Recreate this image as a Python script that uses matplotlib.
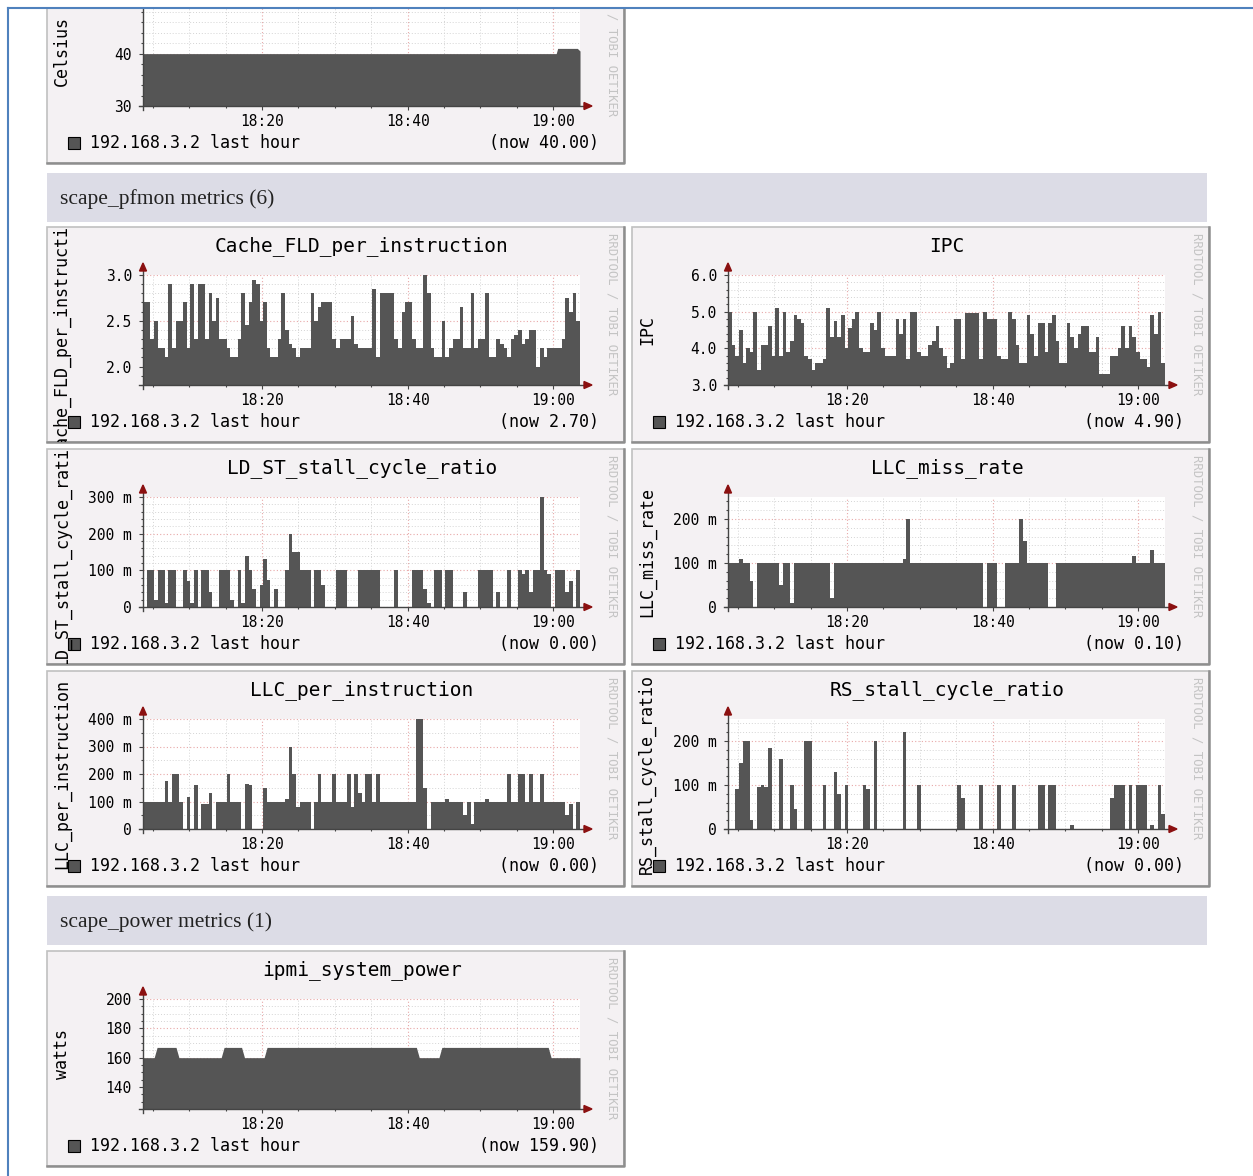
import numpy as np
import matplotlib
matplotlib.use("Agg")
import matplotlib.pyplot as plt
from matplotlib.patches import Rectangle, Polygon
from matplotlib.lines import Line2D
from matplotlib.transforms import Affine2D
from matplotlib.ticker import MultipleLocator

# samples every 30 s starting 18:03:40 (x = minutes after 18:00)
t_start = 3 + 40 / 60
t_step = 0.5

cache_fld = [
    2.7, 2.7, 2.3, 2.5, 2.2, 2.2, 2.1, 2.9, 2.2, 2.5,
    2.5, 2.7, 2.2, 2.9, 2.3, 2.9, 2.9, 2.3, 2.8, 2.5,
    2.75, 2.3, 2.3, 2.2, 2.1, 2.1, 2.3, 2.8, 2.45, 2.7,
    2.95, 2.9, 2.5, 2.7, 2.2, 2.1, 2.1, 2.3, 2.8, 2.4,
    2.25, 2.2, 2.1, 2.2, 2.2, 2.2, 2.8, 2.5, 2.65, 2.7,
    2.7, 2.7, 2.3, 2.2, 2.3, 2.3, 2.3, 2.55, 2.25, 2.2,
    2.2, 2.2, 2.2, 2.85, 2.1, 2.8, 2.8, 2.8, 2.8, 2.3,
    2.2, 2.6, 2.7, 2.7, 2.3, 2.2, 2.2, 3.0, 2.8, 2.2,
    2.1, 2.1, 2.5, 2.1, 2.2, 2.3, 2.3, 2.65, 2.2, 2.2,
    2.8, 2.2, 2.3, 2.3, 2.8, 2.1, 2.1, 2.3, 2.25, 2.2,
    2.1, 2.3, 2.35, 2.4, 2.25, 2.3, 2.4, 2.4, 2.0, 2.2,
    2.1, 2.2, 2.2, 2.2, 2.2, 2.3, 2.75, 2.6, 2.8, 2.5,
]

ipc = [
    5.0, 4.1, 3.8, 4.5, 3.6, 4.0, 3.9, 5.0, 3.4, 4.1,
    4.1, 4.6, 3.8, 5.1, 3.8, 5.0, 3.9, 4.2, 4.9, 4.8,
    4.7, 3.8, 3.7, 3.4, 3.6, 3.6, 3.7, 5.1, 4.3, 4.75,
    4.3, 4.9, 4.0, 4.55, 4.8, 5.0, 4.0, 3.9, 3.9, 4.7,
    4.5, 5.0, 4.0, 3.8, 3.8, 3.8, 4.8, 4.4, 4.8, 3.7,
    5.0, 5.0, 3.9, 3.8, 3.8, 4.1, 4.2, 4.6, 4.0, 3.8,
    3.45, 3.6, 4.8, 4.8, 3.7, 4.95, 4.95, 4.95, 4.95, 3.7,
    5.0, 4.8, 4.8, 4.8, 3.8, 3.7, 3.7, 5.0, 4.8, 4.1,
    3.6, 3.6, 4.9, 4.4, 3.8, 4.7, 4.7, 3.9, 4.7, 4.9,
    4.2, 3.6, 3.6, 4.7, 4.3, 4.0, 4.4, 4.6, 4.6, 3.9,
    3.9, 4.3, 3.3, 3.3, 3.3, 3.8, 3.8, 4.0, 4.6, 4.0,
    4.6, 4.3, 3.9, 3.7, 3.7, 3.5, 4.9, 4.4, 5.0, 3.6,
]

# the next four are in milli-units
ld_st_stall = [
    0, 100, 100, 20, 100, 100, 10, 100, 100, 0,
    0, 100, 70, 10, 100, 0, 100, 100, 40, 0,
    0, 100, 100, 100, 20, 0, 100, 10, 140, 100,
    50, 0, 60, 130, 75, 0, 50, 0, 0, 100,
    200, 150, 150, 100, 100, 100, 0, 100, 100, 60,
    0, 0, 0, 100, 100, 100, 0, 0, 0, 100,
    100, 100, 100, 100, 100, 0, 0, 0, 0, 100,
    0, 0, 0, 0, 100, 100, 100, 50, 10, 0,
    100, 100, 0, 100, 100, 0, 0, 0, 40, 0,
    0, 0, 100, 100, 100, 100, 0, 40, 0, 0,
    100, 0, 0, 100, 90, 100, 40, 100, 100, 300,
    100, 90, 0, 100, 100, 100, 40, 70, 0, 100,
]

llc_miss = [
    100, 100, 100, 110, 100, 100, 60, 0, 100, 100,
    100, 100, 100, 100, 50, 100, 100, 10, 100, 100,
    100, 100, 100, 100, 100, 100, 100, 100, 20, 100,
    100, 100, 100, 100, 100, 100, 100, 100, 100, 100,
    100, 100, 100, 100, 100, 100, 100, 100, 110, 200,
    100, 100, 100, 100, 100, 100, 100, 100, 100, 100,
    100, 100, 100, 100, 100, 100, 100, 100, 100, 100,
    0, 100, 100, 100, 0, 0, 100, 100, 100, 100,
    200, 150, 100, 100, 100, 100, 100, 100, 0, 0,
    100, 100, 100, 100, 100, 100, 100, 100, 100, 100,
    100, 100, 100, 100, 100, 100, 100, 100, 100, 100,
    100, 115, 100, 100, 100, 100, 130, 100, 100, 100,
]

llc_per_instr = [
    100, 100, 100, 100, 100, 100, 175, 100, 200, 200,
    100, 0, 115, 0, 160, 0, 90, 90, 130, 0,
    100, 100, 100, 200, 100, 100, 100, 0, 165, 160,
    0, 0, 0, 150, 100, 100, 100, 100, 100, 110,
    300, 200, 80, 100, 100, 100, 0, 100, 200, 100,
    100, 100, 200, 100, 100, 100, 200, 80, 200, 130,
    100, 200, 200, 100, 200, 100, 100, 100, 100, 100,
    100, 100, 100, 100, 100, 400, 400, 150, 0, 100,
    100, 100, 100, 110, 100, 100, 100, 100, 50, 100,
    20, 100, 100, 100, 110, 100, 100, 100, 100, 100,
    200, 100, 100, 200, 200, 100, 200, 100, 100, 200,
    100, 100, 100, 100, 100, 100, 50, 90, 0, 100,
]

rs_stall = [
    0, 0, 90, 150, 200, 200, 20, 0, 95, 100,
    95, 185, 0, 0, 160, 0, 0, 100, 45, 0,
    0, 200, 200, 0, 0, 0, 100, 0, 0, 130,
    80, 0, 100, 0, 0, 0, 0, 100, 90, 0,
    200, 0, 0, 0, 0, 0, 0, 0, 220, 0,
    0, 0, 100, 0, 0, 0, 0, 0, 0, 0,
    0, 0, 0, 100, 70, 0, 0, 0, 0, 100,
    0, 0, 0, 0, 100, 0, 0, 0, 100, 0,
    0, 0, 0, 0, 0, 100, 100, 0, 100, 100,
    0, 0, 0, 0, 10, 0, 0, 0, 0, 0,
    0, 0, 0, 0, 0, 70, 100, 100, 100, 0,
    100, 0, 100, 100, 100, 0, 10, 0, 100, 35,
]

power_t = [3.67, 5.2, 5.6, 8.2, 8.6, 14.4, 14.8, 17.2, 17.6, 20.3,
           20.7, 41.2, 41.6, 44.3, 44.7, 59.3, 59.7, 63.67]
power_w = [160, 160, 167, 167, 160, 160, 167, 167, 160, 160,
           167, 167, 160, 160, 167, 167, 160, 160]

celsius_t = [3.67, 60.4, 60.6, 63.3, 63.67]
celsius_c = [40, 40, 41, 41, 40.5]

x_ticks = [20, 40, 60]
x_labels = ["18:20", "18:40", "19:00"]
host_label = "192.168.3.2 last hour"

AREA = "#555555"
PANEL_BG = "#f4f1f3"
BAND_BG = "#dcdce6"
MINOR_GRID = "#d4d4d4"
MAJOR_GRID = "#e8a8a8"
AXIS = "#444444"
ARROW = "#8b1010"

plt.rcParams["font.family"] = ["DejaVu Sans Mono"]

W, H = 1253, 1176
fig = plt.figure(figsize=(W / 100, H / 100), dpi=100)
fig.patch.set_facecolor("white")
# pixel coordinates, origin top-left
pix = Affine2D().scale(1 / W, -1 / H).translate(0, 1) + fig.transFigure


def px_rect(x0, y0, x1, y1):
    return [x0 / W, 1 - y1 / H, (x1 - x0) / W, (y1 - y0) / H]


def graph(L, T, title, ylabel, ylim, ymajor, ylabels, yminor, now, series):
    box = Rectangle((L, T), 577, 215, transform=pix, fc=PANEL_BG,
                    ec="#c0c0c0", lw=1.2, zorder=-2)
    fig.add_artist(box)
    fig.add_artist(Line2D([L, L + 577, L + 577], [T + 215, T + 215, T],
                          transform=pix, color="#8e8e8e", lw=1.8, zorder=-1))

    x0, x1, y0, y1 = L + 96, L + 533, T + 48, T + 158
    ax = fig.add_axes(px_rect(x0, y0, x1, y1))
    ax.set_facecolor("white")
    t, v, kind = series
    if kind == "step":
        edges = t_start + t_step * np.arange(len(v) + 1)
        ax.stairs(v, edges, baseline=ylim[0], fill=True, color=AREA, lw=0,
                  zorder=3)
    else:
        ax.fill_between(t, v, ylim[0], color=AREA, lw=0, zorder=3)
    ax.set_xlim(t_start, t_start + 60)
    ax.set_ylim(*ylim)

    ax.set_xticks(x_ticks, x_labels)
    ax.xaxis.set_minor_locator(MultipleLocator(5))
    ax.set_yticks(ymajor, ylabels)
    ax.yaxis.set_minor_locator(MultipleLocator(yminor))
    ax.tick_params(which="both", direction="out", color=AXIS, width=0.8,
                   labelsize=10.5)
    ax.tick_params(which="major", length=3)
    ax.tick_params(which="minor", length=1.5)
    ax.tick_params(axis="x", pad=3)
    ax.tick_params(axis="y", pad=5)
    ax.grid(True, which="minor", color=MINOR_GRID, ls=(0, (1, 2)), lw=0.7)
    ax.grid(True, which="major", color=MAJOR_GRID, ls=(0, (1, 2)), lw=0.8)
    ax.set_axisbelow(True)
    for s in ax.spines.values():
        s.set_visible(False)

    # axis lines with arrow heads
    fig.add_artist(Line2D([x0 - 4, x1 + 5], [y1, y1], transform=pix,
                          color=AXIS, lw=1, zorder=2))
    fig.add_artist(Line2D([x0, x0], [y1 + 4, y0 - 5], transform=pix,
                          color=AXIS, lw=1, zorder=2))
    fig.add_artist(Polygon([[x1 + 12, y1], [x1 + 4, y1 - 3.5], [x1 + 4, y1 + 3.5]],
                           transform=pix, color=ARROW, zorder=2))
    fig.add_artist(Polygon([[x0, y0 - 12], [x0 - 3.5, y0 - 4], [x0 + 3.5, y0 - 4]],
                           transform=pix, color=ARROW, zorder=2))

    if title:
        fig.text(L + 315, T + 19, title, transform=pix, ha="center",
                 va="center", fontsize=14)
    yl = fig.text(L + 15, T + 103, ylabel, transform=pix, rotation=90,
                  ha="center", va="center", fontsize=12)
    yl.set_clip_path(box)
    wm = fig.text(L + 565, T + 6, "RRDTOOL / TOBI OETIKER", transform=pix,
                  rotation=270, ha="center", va="top", fontsize=8.8,
                  color="#c4c4c4")
    wm.set_clip_path(box)

    fig.add_artist(Rectangle((L + 21, T + 189), 12, 12, transform=pix,
                             fc=AREA, ec="black", lw=0.8, zorder=3))
    fig.text(L + 43, T + 195, host_label, transform=pix, va="center",
             fontsize=12)
    fig.text(L + 552, T + 195, f"(now {now})", transform=pix, ha="right",
             va="center", fontsize=12)


def band(T, label):
    fig.add_artist(Rectangle((47, T), 1160, 49, transform=pix, fc=BAND_BG,
                             ec="none", zorder=-2))
    fig.text(60, T + 26, label, transform=pix, va="center", fontsize=15.5,
             family=["Liberation Serif"], color="#222222")


m_ticks = [0, 100, 200, 300, 400]
m_labels = ["0", "100 m", "200 m", "300 m", "400 m"]

graph(47, -52, None, "Celsius", (30, 51), [30, 40], ["30", "40"], 2,
      "40.00", (celsius_t, celsius_c, "line"))

band(173, "scape_pfmon metrics (6)")
graph(47, 227, "Cache_FLD_per_instruction", "Cache_FLD_per_instruction",
      (1.8, 3.0), [2.0, 2.5, 3.0], ["2.0", "2.5", "3.0"], 0.1, "2.70",
      (None, cache_fld, "step"))
graph(632, 227, "IPC", "IPC", (3.0, 6.0), [3, 4, 5, 6],
      ["3.0", "4.0", "5.0", "6.0"], 0.2, "4.90", (None, ipc, "step"))
graph(47, 449, "LD_ST_stall_cycle_ratio", "LD_ST_stall_cycle_ratio",
      (0, 300), m_ticks[:4], m_labels[:4], 20, "0.00",
      (None, ld_st_stall, "step"))
graph(632, 449, "LLC_miss_rate", "LLC_miss_rate", (0, 250), m_ticks[:3],
      m_labels[:3], 20, "0.10", (None, llc_miss, "step"))
graph(47, 671, "LLC_per_instruction", "LLC_per_instruction", (0, 400),
      m_ticks, m_labels, 50, "0.00", (None, llc_per_instr, "step"))
graph(632, 671, "RS_stall_cycle_ratio", "RS_stall_cycle_ratio", (0, 250),
      m_ticks[:3], m_labels[:3], 20, "0.00", (None, rs_stall, "step"))

band(896, "scape_power metrics (1)")
graph(47, 951, "ipmi_system_power", "watts", (125, 200),
      [140, 160, 180, 200], ["140", "160", "180", "200"], 5, "159.90",
      (power_t, power_w, "line"))

# page frame
fig.add_artist(Rectangle((0, 0), W, 8, transform=pix, fc="white", ec="none",
                         zorder=10))
fig.add_artist(Rectangle((0, 0), 8, H, transform=pix, fc="white", ec="none",
                         zorder=10))
fig.add_artist(Line2D([8, W], [8, 8], transform=pix, color="#4f81bd", lw=1.5,
                      zorder=11))
fig.add_artist(Line2D([8, 8], [8, H], transform=pix, color="#4f81bd", lw=1.5,
                      zorder=11))

fig.savefig("out.png", dpi=100)
